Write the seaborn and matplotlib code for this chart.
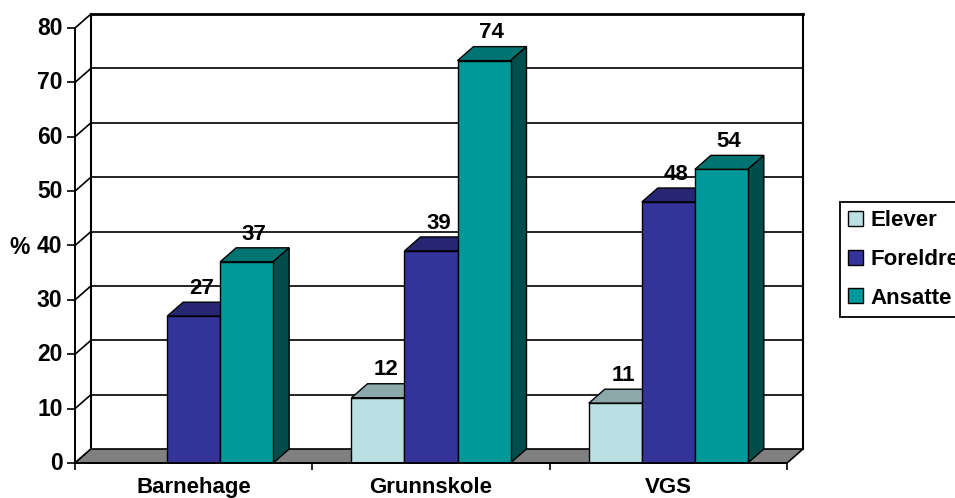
import numpy as np
import pandas as pd
import seaborn as sns
import matplotlib.pyplot as plt
from matplotlib.patches import Polygon
from matplotlib.transforms import IdentityTransform, ScaledTranslation

categories = ["Barnehage", "Grunnskole", "VGS"]
series_names = ["Elever", "Foreldre", "Ansatte"]
elever = [np.nan, 12, 11]
foreldre = [27, 39, 48]
ansatte = [37, 74, 54]
y_ticks = [0, 10, 20, 30, 40, 50, 60, 70, 80]
colors = ["#BBE0E3", "#333399", "#009999"]

# figure pixels
W, H = 955, 498
DX, DY = 16, 14  # depth of the fake 3D box
LEFT, RIGHT, BOTTOM, TOP = 75, 787, 463, 28

sns.set_theme(style="white", rc={"text.color": "black", "axes.labelcolor": "black",
                                 "xtick.color": "black", "ytick.color": "black"})
plt.rcParams["font.family"] = ["Liberation Sans", "DejaVu Sans"]
plt.rcParams["font.weight"] = "bold"

df = pd.DataFrame({"kategori": categories, "Elever": elever, "Foreldre": foreldre, "Ansatte": ansatte})
long_df = df.melt(id_vars="kategori", value_vars=series_names, var_name="gruppe", value_name="prosent")

fig = plt.figure(figsize=(W / 100, H / 100), dpi=100)
ax = fig.add_axes([LEFT / W, 1 - BOTTOM / H, (RIGHT - LEFT) / W, (BOTTOM - TOP) / H])

sns.barplot(
    data=long_df,
    x="kategori",
    y="prosent",
    hue="gruppe",
    order=categories,
    hue_order=series_names,
    palette=colors,
    saturation=1,
    width=0.67,
    edgecolor="black",
    linewidth=1.0,
    errorbar=None,
    ax=ax,
)
ax.set_xlim(-0.5, 2.5)
ax.set_ylim(0, 80)
ax.set_yticks(y_ticks)
ax.set_xlabel("")
ax.set_ylabel("%", rotation=0, fontsize=16.5, fontweight="bold", ha="right", va="center", labelpad=5)
ax.yaxis.label.set_y(0.495)
ax.patch.set_alpha(0)

sns.despine(ax=ax, top=True, right=True)
for s in ["left", "bottom"]:
    ax.spines[s].set_color("black")
    ax.spines[s].set_linewidth(1.4)
    ax.spines[s].set_zorder(30)

# kategori-etiketter midt mellom tickene, tickene mellom kategoriene
ax.set_xticks([0, 1, 2])
ax.set_xticklabels(categories, fontsize=16, fontweight="bold")
ax.set_xticks([-0.5, 0.5, 1.5, 2.5], minor=True)
ax.tick_params(axis="x", which="major", length=0, pad=10, bottom=False)
ax.tick_params(axis="x", which="minor", length=5, width=1.2, color="black", bottom=True)
ax.tick_params(axis="y", length=6, width=1.2, color="black", left=True, pad=3, labelsize=16.5)

# tallene paa y-aksen staar litt over tickene
for lab in ax.get_yticklabels():
    lab.set_transform(lab.get_transform() + ScaledTranslation(0, 2 / 100, fig.dpi_scale_trans))

fig.canvas.draw()
to_px = ax.transData.transform


def add_poly(points, color, z, lw=1.0):
    ax.add_patch(
        Polygon(points, closed=True, facecolor=color, edgecolor="black", linewidth=lw,
                transform=IdentityTransform(), clip_on=False, zorder=z)
    )


def add_line(p0, p1, z=1, lw=1.2):
    ax.plot([p0[0], p1[0]], [p0[1], p1[1]], color="black", lw=lw, solid_capstyle="projecting",
            transform=IdentityTransform(), clip_on=False, zorder=z)


# bakvegg og gulv
x0, x1 = ax.get_xlim()
for v in y_ticks:
    a = to_px((x0, v))
    b = a + (DX, DY)
    c = to_px((x1, v)) + (DX, DY)
    add_line(a, b, lw=1.2)
    if v != 0:
        add_line(b, c, lw=2.0 if v == y_ticks[-1] else 1.2)
add_line(to_px((x0, 0)) + (DX, DY), to_px((x0, 80)) + (DX, DY), lw=1.5)
add_line(to_px((x1, 0)) + (DX, DY), to_px((x1, 80)) + (DX, DY), lw=1.5)
add_poly(
    [to_px((x0, 0)), to_px((x1, 0)), to_px((x1, 0)) + (DX, DY), to_px((x0, 0)) + (DX, DY)],
    "#808080", 1.5, lw=1.2,
)

# 3D-flater bygget fra stolpene seaborn tegnet, fra venstre mot hoyre
bars = [p for p in ax.patches if isinstance(p, plt.Rectangle) and np.isfinite(p.get_height()) and p.get_height() > 0]
bars.sort(key=lambda p: p.get_x())
for i, bar in enumerate(bars):
    z = 3 + i
    fc = np.array(bar.get_facecolor()[:3])
    xa, xb = bar.get_x(), bar.get_x() + bar.get_width()
    h = bar.get_height()
    bl, br = to_px((xa, 0)), to_px((xb, 0))
    tl, tr = to_px((xa, h)), to_px((xb, h))
    add_poly([tl, tr, tr + (DX, DY), tl + (DX, DY)], fc * 0.75, z)
    add_poly([br, tr, tr + (DX, DY), br + (DX, DY)], fc * 0.5, z)
    bar.set_zorder(z + 0.5)
    ax.annotate(
        f"{h:.0f}",
        xy=((xa + xb) / 2, h),
        xytext=(5.5, 20),
        textcoords="offset points",
        ha="center",
        va="center",
        fontsize=16,
        fontweight="bold",
        color="black",
        annotation_clip=False,
        zorder=40,
    )

handles, labels = ax.get_legend_handles_labels()
leg = ax.legend(
    handles,
    labels,
    loc="upper left",
    bbox_to_anchor=(840 / W, 1 - 202 / H),
    bbox_transform=fig.transFigure,
    frameon=True,
    fancybox=False,
    edgecolor="black",
    framealpha=1,
    prop={"size": 16, "weight": "bold"},
    handlelength=0.64,
    handleheight=0.64,
    handletextpad=0.36,
    labelspacing=0.79,
    borderpad=0.38,
    borderaxespad=0,
    title=None,
)
leg.get_frame().set_linewidth(1.3)
leg.set_zorder(50)

fig.savefig("out.png", dpi=100)
